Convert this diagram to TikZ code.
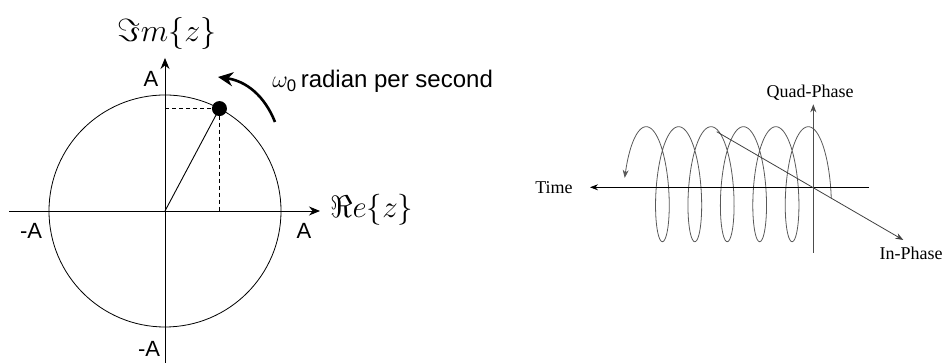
\RequirePackage{fix-cm}
\documentclass[tikz,border=0pt]{standalone}
\usepackage{amsmath,amssymb}
\usepackage{fontspec}
\setmainfont{Liberation Serif}
\setsansfont{Liberation Sans}
\usetikzlibrary{arrows.meta,calc}

\begin{document}
\begin{tikzpicture}[
    x=1pt, y=1pt,
    > = {Stealth[length=11pt,width=9pt]}, % arrow head style
    axis/.style={->, line width=0.9pt},
    guide/.style={line width=0.9pt, dash pattern=on 4pt off 3pt},
    tick/.style={font=\sffamily\fontsize{22}{26}\selectfont, inner sep=0pt},
    phase/.style={font=\rmfamily\fontsize{18}{22}\selectfont, inner sep=0pt},
    smallaxis/.style={-{Stealth[length=8pt,width=6pt]}, line width=0.8pt},
    coil/.style={draw=black!65, line width=0.8pt},
    semithick % line style
]
\useasboundingbox (0,0) rectangle (946,363);

% Complex plane
\coordinate (O) at (165,152);
\coordinate (xl) at (9,152);
\coordinate (xr) at (320,152);
\coordinate (yb) at (165,0);
\coordinate (yt) at (165,305);
\coordinate (P) at ($(O)+(62:116)$);
\draw[line width=0.8pt] (O) circle[radius=116];
\draw[axis] (xl) -- (xr);
\draw[axis] (yb) -- (yt);
\draw[guide] (O |- P) -- (P);
\draw[guide] (P) -- (P |- O);
\draw[line width=0.9pt] (O) -- (P);
\fill (P) circle[radius=7.5];

\node[tick] (atop) at (151,284) {A};
\node[tick] (aright) at (304,132) {A};
\node[tick] (aleft) at (31,132) {-A};
\node[tick] (abot) at (149,14) {-A};
\node[inner sep=0pt, font=\fontsize{32}{36}\selectfont] (imz) at (167,329) {$\Im m\{z\}$};
\node[inner sep=0pt, anchor=west, font=\fontsize{31}{36}\selectfont] (rez) at (330,153) {$\Re e\{z\}$};

% Rotation
\coordinate (rota) at (275,241);
\coordinate (rotb) at (218,286);
\draw[-{Stealth[length=15pt,width=14pt]}, line width=2.6pt] (rota) to[bend right=30] (rotb);
\node[anchor=base west, inner sep=0pt, font=\sffamily\fontsize{24}{28}\selectfont] (speed) at (272,275) {$\omega_{\textsf{0}}$\hspace{4pt}radian per second};

% Helix
\coordinate (Q) at (813.3,175.7);
\coordinate (tend) at (869,175.7);
\coordinate (ttip) at (590,175.7);
\coordinate (qb) at (813.3,110);
\coordinate (qt) at (813.3,258.7);
\coordinate (ib) at (716.7,231.3);
\coordinate (it) at (903.3,123);
\draw[coil, -{Stealth[length=8pt,width=6pt]}] plot[domain=-0.25:34.45, samples=500, smooth, variable=\t]
    ({816.4-5.16*\t+14*cos(\t r)}, {178.8+57.5*sin(\t r)});
\draw[smallaxis] (tend) -- (ttip);
\draw[smallaxis, draw=black!70] (qb) -- (qt);
\draw[smallaxis, draw=black!75] (ib) -- (it);

\node[phase] (time) at (554,175) {Time};
\node[phase] (quad) at (810,270) {Quad-Phase};
\node[phase] (inph) at (911,110) {In-Phase};

\end{tikzpicture}
\end{document}
